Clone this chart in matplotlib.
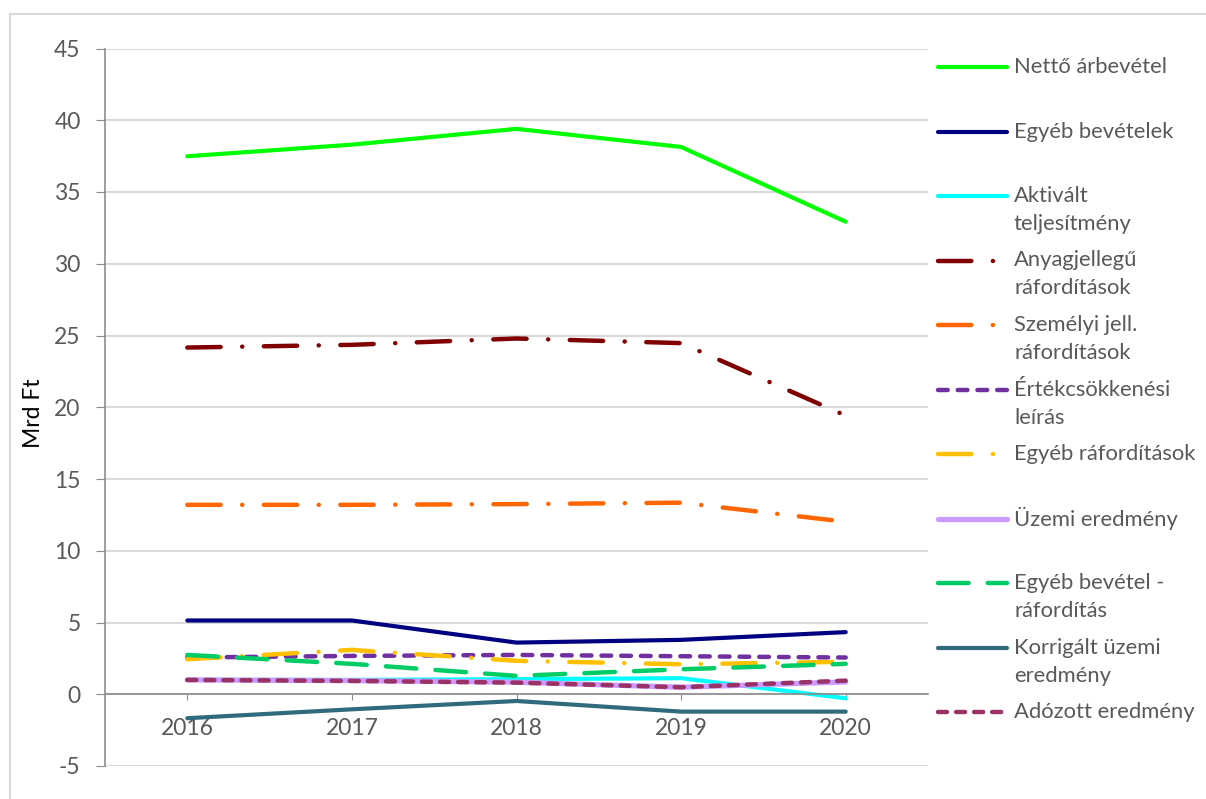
import matplotlib as mpl
mpl.use('Agg')
import matplotlib.pyplot as plt

plt.rcParams['font.family'] = ['Lato', 'DejaVu Sans']
plt.rcParams['lines.scale_dashes'] = False
plt.rcParams['axes.unicode_minus'] = False

years = ['2016', '2017', '2018', '2019', '2020']

# Mrd Ft values
netto_arbevetel = [37.49, 38.3, 39.4, 38.14, 32.93]
egyeb_bevetelek = [5.14, 5.14, 3.6, 3.79, 4.33]
aktivalt = [1.0, 1.0, 1.05, 1.12, -0.28]
anyagjellegu = [24.16, 24.35, 24.79, 24.47, 19.42]
szemelyi = [13.2, 13.2, 13.25, 13.35, 12.02]
ertekcsokkenes = [2.56, 2.67, 2.74, 2.65, 2.56]
egyeb_raford = [2.44, 3.09, 2.33, 2.09, 2.26]
uzemi = [1.0, 0.95, 0.84, 0.49, 0.86]
egyeb_bev_raf = [2.74, 2.12, 1.28, 1.74, 2.12]
korrigalt = [-1.67, -1.05, -0.47, -1.21, -1.21]
adozott = [1.0, 0.93, 0.81, 0.49, 0.95]

labels = ['Nettő árbevétel', 'Egyéb bevételek', 'Aktivált\nteljesítmény',
          'Anyagjellegű\nráfordítások', 'Személyi jell.\nráfordítások',
          'Értékcsökkenési\nleírás', 'Egyéb ráfordítások', 'Üzemi eredmény',
          'Egyéb bevétel -\nráfordítás', 'Korrigált üzemi\neredmény',
          'Adózott eredmény']

lgdashdot = (0, (24, 15.5, 0.1, 15.5))
lgdash = (0, (22, 13.8))
sqdash = (0, (7, 7.2))
sqdash2 = (0, (6.5, 6.5))

series = [
    (netto_arbevetel, '#00FF00', '-', 3),
    (egyeb_bevetelek, '#000080', '-', 3),
    (aktivalt, '#00FFFF', '-', 3),
    (anyagjellegu, '#800000', lgdashdot, 3.2),
    (szemelyi, '#FF6600', lgdashdot, 3.2),
    (ertekcsokkenes, '#7030A0', sqdash, 3.2),
    (egyeb_raford, '#FFC000', lgdashdot, 3.2),
    (uzemi, '#CC99FF', '-', 3.8),
    (egyeb_bev_raf, '#00CC66', lgdash, 3.2),
    (korrigalt, '#2F6B7C', '-', 3),
    (adozott, '#993366', sqdash2, 3.2),
]

W, H = 1206, 799
fig = plt.figure(figsize=(W / 100, H / 100), dpi=100)
ax = fig.add_axes([105 / W, (H - 766) / H, (928 - 105) / W, (766 - 48.5) / H])

x = list(range(len(years)))
for vals, col, ls, lw in series:
    ax.plot(x, vals, color=col, linestyle=ls, lw=lw,
            dash_capstyle='round', solid_capstyle='round', solid_joinstyle='round')

ax.set_xlim(-0.5, len(years) - 0.5)
ax.set_ylim(-5, 45)
ax.set_yticks(range(-5, 46, 5))
ax.set_xticks(x)
ax.set_xticklabels(years)
ax.yaxis.grid(True, color='#D9D9D9', lw=1.5)
ax.set_axisbelow(True)
for s in ['top', 'right']:
    ax.spines[s].set_visible(False)
ax.spines['bottom'].set_position(('data', 0))
ax.spines['bottom'].set_color('#8C8C8C')
ax.spines['left'].set_color('#8C8C8C')
ax.spines['bottom'].set_linewidth(1.2)
ax.spines['left'].set_linewidth(1.2)
ax.tick_params(axis='y', length=6.5, pad=11, color='#8C8C8C', labelcolor='#595959', labelsize=16.5)
ax.tick_params(axis='x', length=4, pad=13, color='#8C8C8C', labelcolor='#595959', labelsize=16.5)

fig.text(33 / W, 1 - 413 / H, 'Mrd Ft', rotation=90, ha='center', va='center',
         fontsize=16.5, color='#000000')

# overlay in pixel coordinates for the legend and the outer frame
lax = fig.add_axes([0, 0, 1, 1])
lax.set_xlim(0, W)
lax.set_ylim(H, 0)
lax.axis('off')
lax.plot([10, 10], [14, H], color='#D9D9D9', lw=1.5)
lax.plot([10, W], [14, 14], color='#D9D9D9', lw=1.5)

for i, ((vals, col, ls, lw), lab) in enumerate(zip(series, labels)):
    y = 67 + 64.5 * i
    lax.plot([938, 1007], [y, y], color=col, linestyle=ls, lw=lw,
             dash_capstyle='round', solid_capstyle='round')
    for k, line in enumerate(lab.split('\n')):
        lax.text(1014, y + 28 * k, line, ha='left', va='center',
                 fontsize=15.8, color='#595959')

plt.savefig('out.png', dpi=100)
